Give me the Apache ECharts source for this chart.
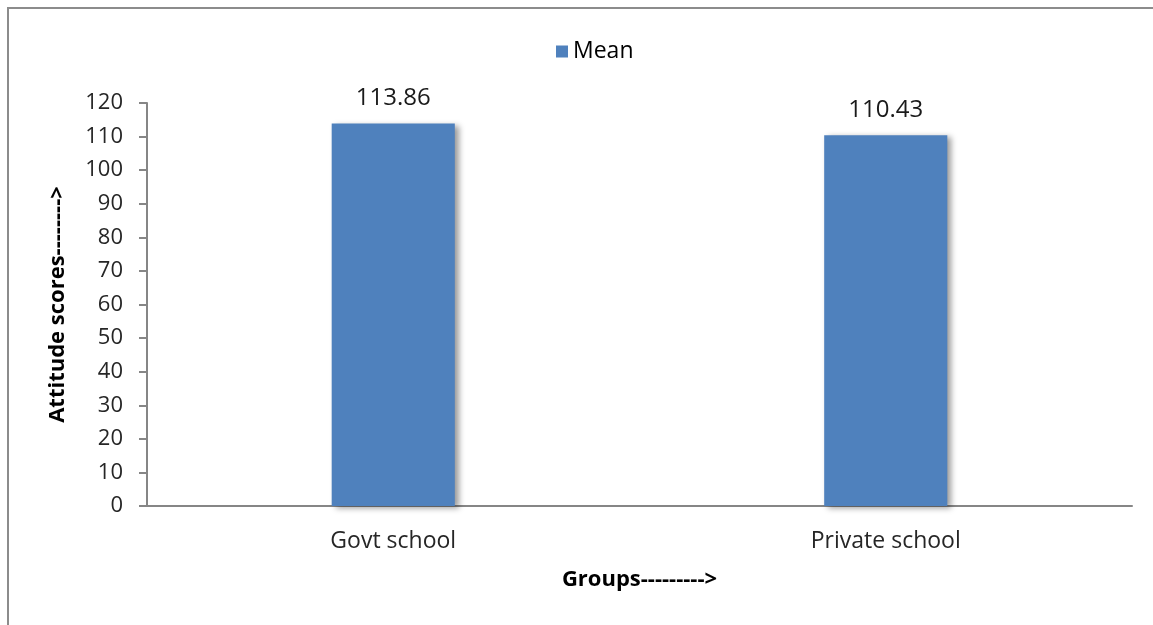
<!DOCTYPE html>
<html>
<head>
<meta charset="utf-8">
<script src="https://cdn.jsdelivr.net/npm/echarts@6/dist/echarts.min.js"></script>
<style>
  html, body { margin: 0; padding: 0; background: #fff; }
  #chart { width: 1153px; height: 625px; }
</style>
</head>
<body>
<div id="chart"></div>
<script>
var categories = ['Govt school', 'Private school'];
var meanValues = [113.86, 110.43];
var seriesName = 'Mean';

var chart = echarts.init(document.getElementById('chart'));

var option = {
    animation: false,
    textStyle: { fontFamily: 'Open Sans' },
    graphic: [{
        type: 'rect',
        shape: { x: 8, y: 8, width: 1200, height: 700 },
        style: { fill: 'none', stroke: '#8c8c8c', lineWidth: 2 },
        silent: true
    }],
    legend: {
        top: 35,
        left: 551,
        itemWidth: 12,
        itemHeight: 12,
        itemGap: 6,
        icon: 'rect',
        data: [seriesName],
        textStyle: { fontSize: 23, color: '#000', fontFamily: 'Open Sans' }
    },
    grid: {
        left: 147,
        right: 21,
        top: 103,
        bottom: 119
    },
    xAxis: {
        type: 'category',
        data: categories,
        name: 'Groups--------->',
        nameLocation: 'middle',
        nameGap: 63,
        nameTextStyle: { fontSize: 22, fontWeight: 'bold', color: '#000', fontFamily: 'Open Sans' },
        axisLine: { lineStyle: { color: '#868686', width: 2 } },
        axisTick: { show: false },
        axisLabel: { fontSize: 23, color: '#262626', margin: 24, fontFamily: 'Open Sans' }
    },
    yAxis: {
        type: 'value',
        min: 0,
        max: 120,
        interval: 10,
        name: 'Attitude scores-------->',
        nameLocation: 'middle',
        nameGap: 78,
        nameTextStyle: { fontSize: 22, fontWeight: 'bold', color: '#000', fontFamily: 'Open Sans' },
        axisLine: { show: true, lineStyle: { color: '#868686', width: 2 } },
        axisTick: { show: true, length: 8, lineStyle: { color: '#868686', width: 2 } },
        splitLine: { show: false },
        axisLabel: { fontSize: 22, color: '#262626', margin: 24, fontFamily: 'Open Sans' }
    },
    series: [{
        name: seriesName,
        type: 'bar',
        data: meanValues,
        barWidth: '25%',
        itemStyle: {
            color: '#4F81BD',
            shadowColor: 'rgba(0,0,0,0.4)',
            shadowBlur: 6,
            shadowOffsetX: 4,
            shadowOffsetY: 2
        },
        label: {
            show: true,
            position: 'top',
            distance: 13,
            fontSize: 24,
            color: '#1a1a1a',
            fontFamily: 'Open Sans'
        }
    }]
};

chart.setOption(option);
</script>
</body>
</html>
